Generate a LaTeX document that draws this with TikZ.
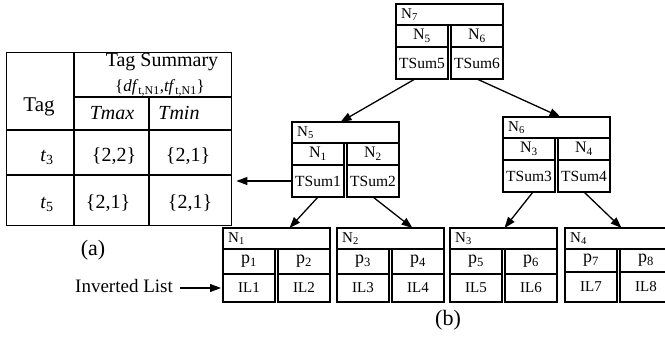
\documentclass[tikz,border=0pt]{standalone}
\usepackage{fontspec}
\setmainfont{Liberation Serif}
\usetikzlibrary{arrows.meta,calc}

\newcommand{\fs}[1]{\fontsize{#1}{#1}\selectfont}

\tikzset{
  frame/.style={draw, line width=1.7pt, rectangle, inner sep=0pt, outer sep=0pt},
  mid head/.style={frame, minimum width=107pt, minimum height=21pt},
  mid top/.style={frame, minimum width=52pt, minimum height=22pt, font=\fs{16}},
  mid bot/.style={frame, minimum width=52pt, minimum height=32pt, font=\fs{15.5}},
  leaf head/.style={frame, minimum width=107pt, minimum height=21pt},
  leaf top/.style={frame, minimum width=52pt, minimum height=25pt, font=\fs{18}},
  leaf bot/.style={frame, minimum width=52pt, minimum height=28pt, font=\fs{15}},
  leafs head/.style={leaf head},
  leafs top/.style={leaf top, minimum height=23pt},
  leafs bot/.style={leaf bot, minimum height=30pt},
  headtxt/.style={anchor=west, inner sep=0pt, font=\fs{15}},
  conn/.style={line width=1.3pt, -{Triangle[length=11pt,width=8pt]}},
  tabline/.style={line width=1.4pt},
  tabtxt/.style={anchor=base, inner sep=0pt, font=\fs{20}},
  caption/.style={inner sep=0pt, font=\fs{22}},
}

% one tree node: header with its name, two entries (top row) and their contents (bottom row)
\newcommand{\cellgroup}[9]{%
  \node[#9 head, anchor=north west] (#1) at (#2,#3) {};
  \node[headtxt] (#1t) at ($(#1.west)+(5,0)$) {#4};
  \node[#9 top, anchor=north west] (#1l) at (#1.south west) {#5};
  \node[#9 top, anchor=north east] (#1r) at (#1.south east) {#6};
  \node[#9 bot, anchor=north west] (#1lb) at (#1l.south west) {#7};
  \node[#9 bot, anchor=north east] (#1rb) at (#1r.south east) {#8};
}

\begin{document}
\begin{tikzpicture}[x=1pt,y=-1pt]
\clip (0,0) rectangle (665,337);

% ---- (a) tag summary table ----
\node[draw, line width=1.4pt, minimum width=225pt, minimum height=173pt,
      anchor=north west, inner sep=0pt] (tbl) at (6,52) {};
\draw[tabline] (74,52) -- (74,225);
\draw[tabline] (149,97) -- (149,225);
\draw[tabline] (74,97) -- (231,97);
\draw[tabline] (6,130) -- (231,130);
\draw[tabline] (6,175) -- (231,175);

\node[tabtxt, font=\fs{21}] (tag) at (39,112) {Tag};
\node[tabtxt] (tsum) at (162,67) {Tag Summary};
\node[tabtxt, font=\fs{17}] (tsub) at (160,92)
  {\{\textit{df}\textsubscript{t,N1},\textit{tf}\textsubscript{t,N1}\}};
\node[tabtxt] (tmax) at (112,120) {\textit{Tmax}};
\node[tabtxt] (tmin) at (179,120) {\textit{Tmin}};
\node[tabtxt] (t3) at (47,161) {\textit{t}\textsubscript{3}};
\node[tabtxt] (t3a) at (114,161) {\{2,2\}};
\node[tabtxt] (t3b) at (188,161) {\{2,1\}};
\node[tabtxt] (t5) at (47,208) {\textit{t}\textsubscript{5}};
\node[tabtxt] (t5a) at (108,208) {\{2,1\}};
\node[tabtxt] (t5b) at (190,208) {\{2,1\}};
\node[caption] (capa) at (93,250) {(a)};

% ---- (b) tree ----
\cellgroup{n7}{396}{4}{N\textsubscript{7}}{N\textsubscript{5}}{N\textsubscript{6}}{TSum5}{TSum6}{mid}
\cellgroup{n5}{292}{122}{N\textsubscript{5}}{N\textsubscript{1}}{N\textsubscript{2}}{TSum1}{TSum2}{mid}
\cellgroup{n6}{503}{117}{N\textsubscript{6}}{N\textsubscript{3}}{N\textsubscript{4}}{TSum3}{TSum4}{mid}

\cellgroup{l1}{223}{228}{N\textsubscript{1}}{p\textsubscript{1}}{p\textsubscript{2}}{IL1}{IL2}{leaf}
\cellgroup{l2}{337}{228}{N\textsubscript{2}}{p\textsubscript{3}}{p\textsubscript{4}}{IL3}{IL4}{leaf}
\cellgroup{l3}{450}{228}{N\textsubscript{3}}{p\textsubscript{5}}{p\textsubscript{6}}{IL5}{IL6}{leaf}
\cellgroup{l4}{565}{228}{N\textsubscript{4}}{p\textsubscript{7}}{p\textsubscript{8}}{IL7}{IL8}{leafs}

\draw[conn] ($(n7lb.south)+(-7,0)$) -- ($(n5.north)+(-5,0)$);
\draw[conn] (n7rb.south) -- ($(n6.north)+(4,0)$);
\draw[conn] (n5lb.south) -- ($(l1.north)+(13,0)$);
\draw[conn] (n5rb.south) -- ($(l2.north)+(22,0)$);
\draw[conn] ($(n6lb.south)+(4,0)$) -- ($(l3.north)+(1,0)$);
\draw[conn] (n6rb.south) -- ($(l4.north)+(3,0)$);

% summary of N1 points to the table
\draw[conn] (n5lb.west) -- ($(tbl.east |- n5lb.west)+(4,0)$);

% inverted list label
\node[inner sep=0pt, anchor=base east, font=\fs{19}] (inv) at (173,292) {Inverted List};
\draw[conn, shorten >=2pt] ($(inv.east |- l1lb.west)+(7,0)$) -- (l1lb.west);

\node[caption] (capb) at (448,320) {(b)};
\end{tikzpicture}
\end{document}
